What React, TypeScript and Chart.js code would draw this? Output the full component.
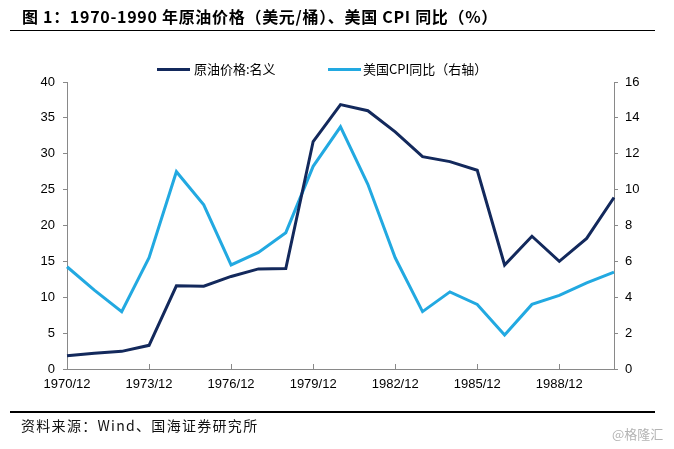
import React, { useEffect, useRef } from "react";
import { Chart, registerables } from "chart.js";

Chart.register(...registerables);

const years: string[] = [
  "1970/12", "1971/12", "1972/12", "1973/12", "1974/12", "1975/12", "1976/12",
  "1977/12", "1978/12", "1979/12", "1980/12", "1981/12", "1982/12", "1983/12",
  "1984/12", "1985/12", "1986/12", "1987/12", "1988/12", "1989/12", "1990/12",
];

const oilPrice: number[] = [
  1.86, 2.2, 2.46, 3.3, 11.6, 11.55, 12.9, 13.95, 14.0, 31.7, 36.85,
  36.0, 33.05, 29.6, 28.9, 27.7, 14.5, 18.5, 15.0, 18.2, 23.9,
];

const usCpi: number[] = [
  5.7, 4.4, 3.2, 6.2, 11.0, 9.15, 5.8, 6.5, 7.6, 11.3, 13.5,
  10.3, 6.2, 3.2, 4.3, 3.6, 1.9, 3.6, 4.1, 4.8, 5.4,
];

const oilLabel = "原油价格:名义";
const cpiLabel = "美国CPI同比（右轴）";
const titleText = "图 1：1970-1990 年原油价格（美元/桶）、美国 CPI 同比（%）";
const sourceText = "资料来源：Wind、国海证券研究所";
const watermark = "@格隆汇";

const OIL_COLOR = "#13295C";
const CPI_COLOR = "#22A9E1";
const AXIS_COLOR = "#898989";
const NUM_FONT = "'Liberation Sans', Arial, sans-serif";
const CJK_FONT = "'Noto Sans CJK SC', 'Liberation Sans', sans-serif";

const xTickPlugin = {
  id: "xInnerTicks",
  beforeDatasetsDraw(chart: any) {
    const xs = chart.scales.x;
    const ctx = chart.ctx;
    const bottom = chart.chartArea.bottom;
    ctx.save();
    ctx.strokeStyle = AXIS_COLOR;
    ctx.lineWidth = 1;
    years.forEach((_, i) => {
      if (i % 3 === 0 && i > 0) {
        const x = Math.round(xs.getPixelForValue(i)) + 0.5;
        ctx.beginPath();
        ctx.moveTo(x, bottom);
        ctx.lineTo(x, bottom - 5);
        ctx.stroke();
      }
    });
    ctx.restore();
  },
};

export default function App() {
  const canvasRef = useRef<HTMLCanvasElement | null>(null);

  useEffect(() => {
    if (!canvasRef.current) return;
    const chart = new Chart(canvasRef.current, {
      type: "line",
      data: {
        labels: years,
        datasets: [
          {
            label: oilLabel,
            data: oilPrice,
            borderColor: OIL_COLOR,
            backgroundColor: OIL_COLOR,
            borderWidth: 3,
            pointRadius: 0,
            tension: 0,
            yAxisID: "y",
          },
          {
            label: cpiLabel,
            data: usCpi,
            borderColor: CPI_COLOR,
            backgroundColor: CPI_COLOR,
            borderWidth: 3,
            pointRadius: 0,
            tension: 0,
            yAxisID: "y1",
          },
        ],
      },
      options: {
        responsive: false,
        animation: false,
        layout: { padding: { top: 82, bottom: 50, left: 0, right: 0 } },
        plugins: {
          legend: { display: false },
          tooltip: { enabled: false },
          title: { display: false },
        },
        scales: {
          x: {
            type: "category",
            offset: false,
            afterFit: (s: any) => {
              s.height = 30;
            },
            grid: { drawOnChartArea: false, drawTicks: false },
            border: { display: true, color: AXIS_COLOR, width: 1 },
            ticks: {
              autoSkip: false,
              maxRotation: 0,
              minRotation: 0,
              padding: 8,
              color: "#000",
              font: { family: NUM_FONT, size: 13 },
              callback: (_v: any, i: number) => (i % 3 === 0 ? years[i] : ""),
            },
          },
          y: {
            position: "left",
            min: 0,
            max: 40,
            afterFit: (s: any) => {
              s.width = 67;
            },
            grid: { drawOnChartArea: false, drawTicks: true, tickLength: 4, color: AXIS_COLOR },
            border: { display: true, color: AXIS_COLOR, width: 1 },
            ticks: {
              stepSize: 5,
              padding: 8,
              color: "#000",
              font: { family: NUM_FONT, size: 13 },
            },
          },
          y1: {
            position: "right",
            min: 0,
            max: 16,
            afterFit: (s: any) => {
              s.width = 60;
            },
            grid: { drawOnChartArea: false, drawTicks: true, tickLength: 4, color: AXIS_COLOR },
            border: { display: true, color: AXIS_COLOR, width: 1 },
            ticks: {
              stepSize: 2,
              padding: 7,
              color: "#000",
              font: { family: NUM_FONT, size: 13 },
            },
          },
        },
      },
      plugins: [xTickPlugin],
    } as any);
    return () => chart.destroy();
  }, []);

  const abs = (s: React.CSSProperties): React.CSSProperties => ({ position: "absolute", ...s });

  return (
    <div
      style={{
        position: "absolute",
        left: 0,
        top: 0,
        width: 674,
        height: 449,
        background: "#fff",
        overflow: "hidden",
      }}
    >
      <canvas ref={canvasRef} width={674} height={449} style={abs({ left: 0, top: 0, width: 674, height: 449 })} />
      <div
        style={abs({
          left: 22,
          top: 6,
          fontFamily: CJK_FONT,
          fontWeight: "bold",
          fontSize: 16,
          lineHeight: "20px",
          letterSpacing: "0.7px",
          color: "#000",
          whiteSpace: "nowrap",
        })}
      >
        {titleText}
      </div>
      <div style={abs({ left: 10, top: 29.5, width: 645, height: 1.5, background: "#000" })} />
      {/* legend */}
      <div style={abs({ left: 157, top: 67.5, width: 33, height: 3, background: OIL_COLOR })} />
      <div
        style={abs({
          left: 194,
          top: 61,
          fontFamily: CJK_FONT,
          fontSize: 13,
          lineHeight: "16px",
          color: "#000",
          whiteSpace: "nowrap",
        })}
      >
        {oilLabel}
      </div>
      <div style={abs({ left: 328, top: 67.5, width: 33, height: 3, background: CPI_COLOR })} />
      <div
        style={abs({
          left: 363,
          top: 61,
          fontFamily: CJK_FONT,
          fontSize: 13,
          lineHeight: "16px",
          color: "#000",
          whiteSpace: "nowrap",
        })}
      >
        {cpiLabel}
      </div>
      {/* footer */}
      <div style={abs({ left: 10, top: 411, width: 645, height: 1.5, background: "#000" })} />
      <div
        style={abs({
          left: 21,
          top: 416,
          fontFamily: CJK_FONT,
          fontSize: 14,
          lineHeight: "18px",
          letterSpacing: "1.3px",
          color: "#111",
          whiteSpace: "nowrap",
        })}
      >
        {sourceText}
      </div>
      <div
        style={abs({
          left: 612,
          top: 426,
          fontFamily: CJK_FONT,
          fontSize: 13,
          lineHeight: "16px",
          color: "#b4b4b4",
          whiteSpace: "nowrap",
        })}
      >
        {watermark}
      </div>
    </div>
  );
}
